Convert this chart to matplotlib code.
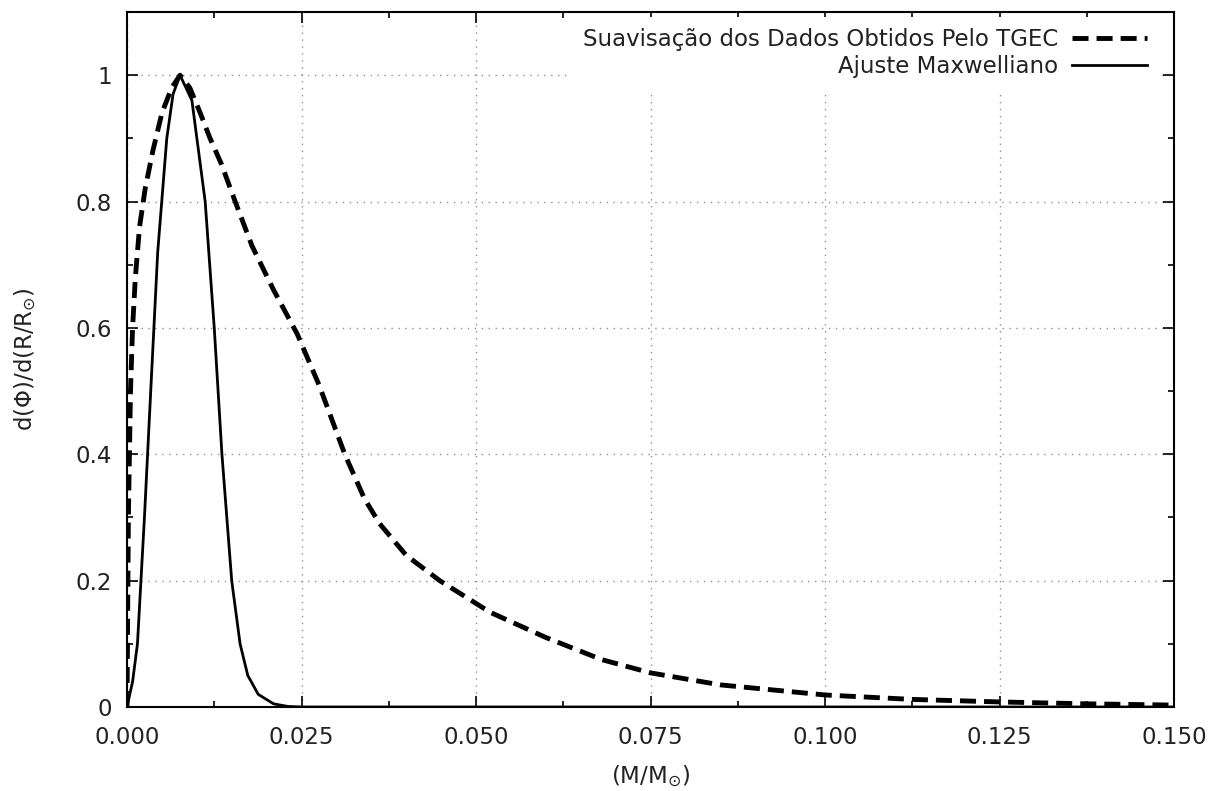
import numpy as np
import matplotlib.pyplot as plt
from matplotlib.ticker import MultipleLocator, FormatStrFormatter

# Smoothed TGEC data (dashed)
tgec_x = [0.0, 0.0001, 0.0002, 0.0005, 0.0008, 0.0012, 0.0018, 0.0026, 0.0037,
          0.0050, 0.0064, 0.0076, 0.0090, 0.0105, 0.0119, 0.0135, 0.0155, 0.0179,
          0.0210, 0.0244, 0.0275, 0.0312, 0.0340, 0.0362, 0.0400, 0.0448, 0.0520,
          0.0600, 0.0680, 0.0750, 0.0850, 0.1000, 0.1125, 0.1250, 0.1375, 0.1500]
tgec_y = [0.0, 0.15, 0.30, 0.50, 0.60, 0.68, 0.76, 0.82, 0.88,
          0.94, 0.98, 1.00, 0.98, 0.94, 0.90, 0.86, 0.80, 0.73,
          0.66, 0.59, 0.51, 0.40, 0.33, 0.29, 0.24, 0.20, 0.15,
          0.11, 0.075, 0.054, 0.035, 0.019, 0.012, 0.008, 0.005, 0.003]

# Maxwellian fit (solid)
max_x = [0.0, 0.0008, 0.0015, 0.0025, 0.0034, 0.0044, 0.0057, 0.0066, 0.0076,
         0.0093, 0.0112, 0.0125, 0.0136, 0.0150, 0.0162, 0.0173, 0.0188, 0.0210,
         0.0230, 0.0250, 0.0300, 0.0500, 0.1000, 0.1500]
max_y = [0.0, 0.04, 0.10, 0.30, 0.50, 0.72, 0.90, 0.97, 1.00,
         0.96, 0.80, 0.60, 0.40, 0.20, 0.10, 0.05, 0.02, 0.005,
         0.001, 0.0, 0.0, 0.0, 0.0, 0.0]

fs = 16.5
txt = "#222222"

fig = plt.figure(figsize=(12.14, 7.91), dpi=100)
ax = fig.add_axes([0.1046, 0.1062, 0.8626, 0.8786])

ax.plot(tgec_x, tgec_y, color="black", lw=3.5, linestyle=(0, (3.3, 1.65)),
        label="Suavisação dos Dados Obtidos Pelo TGEC", zorder=3)
ax.plot(max_x, max_y, color="black", lw=2.0,
        label="Ajuste Maxwelliano", zorder=3)

ax.set_xlim(0, 0.15)
ax.set_ylim(0, 1.1)
ax.xaxis.set_major_locator(MultipleLocator(0.025))
ax.xaxis.set_minor_locator(MultipleLocator(0.0125))
ax.xaxis.set_major_formatter(FormatStrFormatter("%.3f"))
ax.yaxis.set_minor_locator(MultipleLocator(0.1))
ax.set_yticks([0, 0.2, 0.4, 0.6, 0.8, 1.0])
ax.set_yticklabels(["0", "0.2", "0.4", "0.6", "0.8", "1"])

ax.tick_params(which="both", direction="in", top=True, right=True,
               labelsize=fs, width=1.2, colors="black", labelcolor=txt)
ax.tick_params(which="major", length=8)
ax.tick_params(which="minor", length=4)
ax.tick_params(axis="x", which="major", pad=14)
ax.tick_params(axis="y", which="major", pad=11)
for s in ax.spines.values():
    s.set_linewidth(1.5)

ax.grid(True, which="major", linestyle=(0, (1, 4)), color="#909090", lw=1.0, zorder=0)
ax.set_axisbelow(True)

ax.set_xlabel(r"(M/M$_{\odot}$)", fontsize=fs, labelpad=10, color=txt)
ax.set_ylabel(r"d($\Phi$)/d(R/R$_{\odot}$)", fontsize=fs, labelpad=26, color=txt)

leg = ax.legend(loc="upper right", bbox_to_anchor=(1 - 0.0148, 1 - 0.0065),
                markerfirst=False, fontsize=fs,
                frameon=True, fancybox=False, edgecolor="none", facecolor="white",
                framealpha=1.0, handlelength=3.3, handletextpad=0.6,
                borderaxespad=0.0, labelspacing=0.18, borderpad=0.5)
leg.set_zorder(2)
for t in leg.get_texts():
    t.set_color(txt)

fig.savefig("out.png", dpi=100)
